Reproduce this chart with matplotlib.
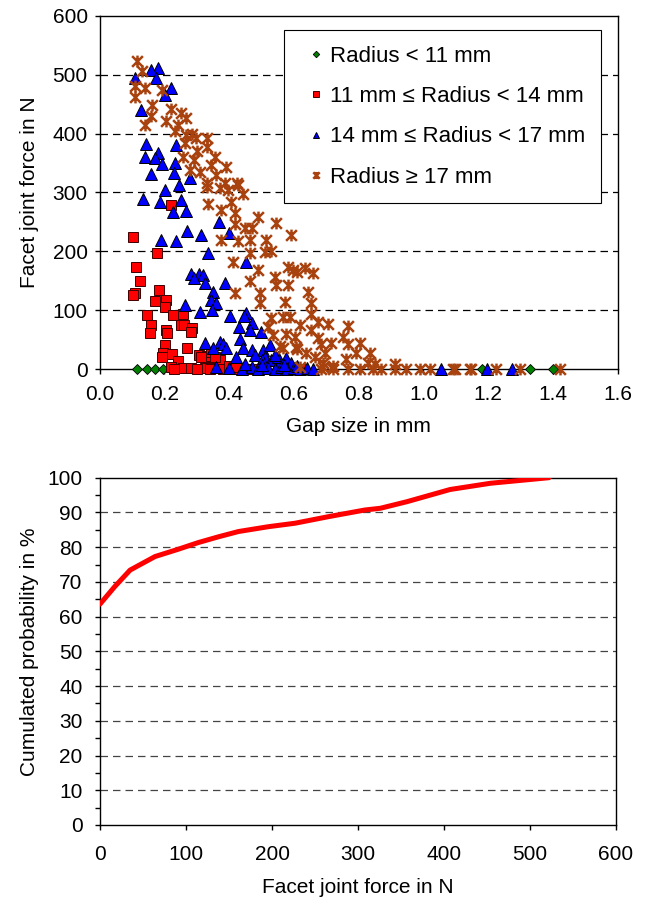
import numpy as np
import matplotlib
matplotlib.use("Agg")
import matplotlib.pyplot as plt
from matplotlib.path import Path
from matplotlib.ticker import MultipleLocator, FormatStrFormatter

plt.rcParams['font.family'] = ['Liberation Sans', 'DejaVu Sans']
plt.rcParams['font.size'] = 15

# --- top chart: facet joint force vs gap size, grouped by radius ---
green_x = [0.116, 0.147, 0.170, 0.196, 0.221, 1.18, 1.33, 1.40]
green_y = [0, 0, 0, 0, 0, 0, 0, 0]

red_x = [0.103, 0.221, 0.177, 0.113, 0.124, 0.108, 0.103, 0.183, 0.170, 0.204,
         0.201, 0.146, 0.225, 0.257, 0.160, 0.154, 0.206, 0.209, 0.250, 0.260,
         0.286, 0.283, 0.201, 0.196, 0.191, 0.223, 0.270, 0.307, 0.335, 0.242,
         0.219, 0.257, 0.283, 0.324, 0.355, 0.371, 0.330, 0.345, 0.314, 0.355,
         0.23, 0.30, 0.34, 0.38, 0.41, 0.44, 0.47, 0.50, 0.56, 0.62, 0.40, 0.42]
red_y = [224, 279, 197, 174, 149, 129, 125, 135, 116, 118,
         106, 92, 92, 93, 75, 62, 66, 61, 75, 75,
         69, 63, 41, 28, 21, 25, 36, 23, 21, 13,
         3, 1, 1, 1, 1, 15, 22, 29, 21, 20,
         0, 0, 0, 0, 0, 0, 0, 0, 0, 0, 5, 3]

blue_x = [0.180, 0.160, 0.108, 0.173, 0.219, 0.203, 0.129, 0.144, 0.237, 0.141,
          0.180, 0.170, 0.193, 0.232, 0.160, 0.229, 0.244, 0.278, 0.203, 0.134,
          0.185, 0.250, 0.225, 0.268, 0.271, 0.312, 0.188, 0.235, 0.335, 0.453,
          0.283, 0.307, 0.319, 0.291, 0.324, 0.386, 0.350, 0.345, 0.360, 0.348,
          0.265, 0.309, 0.402, 0.453, 0.446, 0.469, 0.430, 0.463, 0.497, 0.434,
          0.324, 0.371, 0.381, 0.350, 0.391, 0.443, 0.469, 0.505, 0.525, 0.479,
          0.422, 0.510, 0.530, 0.556, 0.577, 0.551, 0.592, 0.500, 0.540, 0.37,
          0.40, 0.36, 0.40, 0.44, 0.47, 0.49, 0.52, 0.54, 0.56, 0.58,
          0.60, 0.62, 0.64, 0.66, 0.45, 0.50, 0.57, 0.61, 1.055, 1.195, 1.272]
blue_y = [512, 508, 495, 494, 478, 465, 440, 383, 381, 360,
          367, 358, 349, 350, 332, 333, 313, 325, 304, 289,
          284, 287, 267, 269, 234, 227, 220, 217, 198, 182,
          161, 162, 160, 154, 147, 147, 131, 118, 112, 101,
          108, 97, 90, 96, 90, 79, 71, 66, 63, 51,
          45, 46, 43, 35, 35, 35, 32, 32, 41, 24,
          21, 21, 15, 12, 18, 21, 10, 16, 24, 250,
          231, 3, 2, 0, 4, 0, 2, 0, 3, 0,
          2, 0, 1, 0, 8, 6, 6, 5, 0, 0, 0]

star_x = [0.115, 0.132, 0.108, 0.139, 0.191, 0.108, 0.163, 0.221, 0.250, 0.157,
          0.206, 0.141, 0.268, 0.242, 0.268, 0.299, 0.333, 0.330, 0.263, 0.257,
          0.291, 0.345, 0.391, 0.278, 0.360, 0.330, 0.386, 0.425, 0.331, 0.371,
          0.396, 0.427, 0.443, 0.335, 0.407, 0.417, 0.489, 0.546, 0.417, 0.469,
          0.376, 0.427, 0.463, 0.515, 0.592, 0.510, 0.463, 0.412, 0.489, 0.582,
          0.608, 0.659, 0.597, 0.633, 0.541, 0.546, 0.582, 0.463, 0.417, 0.494,
          0.643, 0.571, 0.654, 0.494, 0.530, 0.587, 0.566, 0.654, 0.618, 0.674,
          0.705, 0.767, 0.654, 0.535, 0.602, 0.674, 0.577, 0.520, 0.566, 0.607,
          0.638, 0.695, 0.664, 0.685, 0.716, 0.752, 0.767, 0.803, 0.793, 0.834,
          0.829, 0.762, 0.690, 0.608, 0.556, 0.690, 0.850, 0.911,
          0.685, 0.721, 0.767, 0.803, 0.845, 0.870, 0.911, 0.947, 0.988, 1.019,
          1.091, 1.143, 1.148, 1.225, 1.297, 1.421, 1.097, 0.62, 0.72,
          0.300, 0.355, 0.232, 0.310, 0.285, 0.375, 0.450, 0.530]
star_y = [523, 507, 481, 477, 475, 463, 448, 442, 435, 430,
          421, 414, 427, 415, 398, 393, 393, 378, 384, 361,
          356, 347, 344, 338, 329, 316, 316, 316, 310, 307,
          304, 313, 298, 281, 284, 265, 259, 248, 247, 239,
          219, 217, 219, 219, 228, 199, 197, 182, 168, 174,
          165, 163, 168, 172, 157, 143, 143, 149, 129, 129,
          131, 114, 112, 112, 86, 88, 88, 93, 75, 80,
          76, 73, 66, 58, 55, 52, 59, 71, 35, 38,
          27, 27, 21, 42, 45, 54, 42, 45, 28, 28,
          11, 17, 11, 34, 39, 4, 9, 9,
          0, 0, 0, 0, 0, 0, 0, 0, 0, 0,
          0, 0, 0, 0, 0, 0, 0, 3, 5,
          370, 360, 405, 335, 400, 270, 240, 200]

labels = ['Radius < 11 mm', '11 mm \u2264 Radius < 14 mm',
          '14 mm \u2264 Radius < 17 mm', 'Radius \u2265 17 mm']

# --- bottom chart: cumulative distribution of facet joint force ---
force = [0, 17, 35, 64, 91, 114, 138, 161, 196, 227, 266, 308, 326, 357, 407, 454, 522]
prob = [63.6, 68.6, 73.4, 77.3, 79.4, 81.3, 83.0, 84.5, 85.9, 86.9, 88.8, 90.7,
        91.2, 93.1, 96.6, 98.4, 100]

brown = '#A8420F'
# Excel-style star: an x with a vertical bar through it
star = Path([(-1, -1), (1, 1), (-1, 1), (1, -1), (0, -1.1), (0, 1.1)],
            [Path.MOVETO, Path.LINETO, Path.MOVETO, Path.LINETO, Path.MOVETO, Path.LINETO])

fig = plt.figure(figsize=(6.46, 9.02), dpi=100)
ax1 = fig.add_axes([0.1543, 0.5909, 0.8019, 0.3914])
ax2 = fig.add_axes([0.1548, 0.0854, 0.7988, 0.385])

ax1.plot(green_x, green_y, ls='none', marker='D', ms=5.5, mfc='#008000', mec='black',
         mew=0.6, clip_on=False, zorder=3, label=labels[0])
ax1.plot(red_x, red_y, ls='none', marker='s', ms=7, mfc='#FF0000', mec='#400000',
         mew=0.7, clip_on=False, zorder=3, label=labels[1])
ax1.plot(blue_x, blue_y, ls='none', marker='^', ms=8, mfc='#0000FF', mec='black',
         mew=0.7, clip_on=False, zorder=3, label=labels[2])
ax1.plot(star_x, star_y, ls='none', marker=star, ms=8.5, mfc='none', mec=brown,
         mew=1.8, clip_on=False, zorder=3, label=labels[3])

ax1.set_xlim(0, 1.6)
ax1.set_ylim(0, 600)
ax1.xaxis.set_major_locator(MultipleLocator(0.2))
ax1.xaxis.set_major_formatter(FormatStrFormatter('%.1f'))
ax1.yaxis.set_major_locator(MultipleLocator(100))
for v in range(100, 600, 100):
    ax1.axhline(v, color='black', lw=0.9, ls=(0, (6, 4)), zorder=1)
ax1.tick_params(axis='x', pad=8)
ax1.tick_params(axis='y', pad=5)
ax1.set_xlabel('Gap size in mm', labelpad=9)
ax1.set_ylabel('Facet joint force in N', labelpad=10)

leg = ax1.legend(loc='upper right', bbox_to_anchor=(0.967, 0.960), frameon=True,
                 fancybox=False, edgecolor='black', framealpha=1, markerscale=0.6,
                 handlelength=1.52, handletextpad=-0.16, borderpad=0.7,
                 borderaxespad=0, labelspacing=0.87, fontsize=16)
leg.get_frame().set_linewidth(0.8)

ax2.plot(force, prob, color='#FF0000', lw=3.6, solid_capstyle='round', zorder=3)
ax2.set_xlim(0, 600)
ax2.set_ylim(0, 100)
ax2.xaxis.set_major_locator(MultipleLocator(100))
ax2.yaxis.set_major_locator(MultipleLocator(10))
ax2.yaxis.set_minor_locator(MultipleLocator(5))
for v in range(10, 100, 10):
    ax2.axhline(v, color='#444444', lw=0.9, ls=(0, (6, 4)), zorder=1)
ax2.tick_params(axis='x', which='major', pad=11)
ax2.tick_params(axis='y', which='major', pad=9)
ax2.set_xlabel('Facet joint force in N', labelpad=10)
ax2.set_ylabel('Cumulated probability in %', labelpad=6)

for ax in (ax1, ax2):
    for s in ax.spines.values():
        s.set_linewidth(1.0)
        s.set_color('black')
    ax.tick_params(which='major', direction='out', length=3.6, width=1.0)
    ax.tick_params(which='minor', direction='out', length=3.6, width=1.0)

fig.savefig('out.png', dpi=100)
